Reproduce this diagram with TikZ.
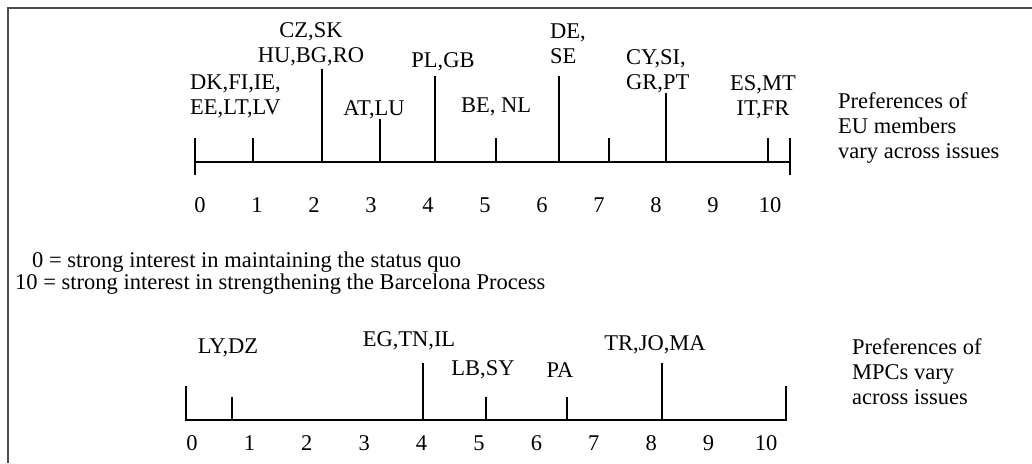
\documentclass[tikz,border=0pt]{standalone}
\usepackage{fontspec}
\setmainfont{Liberation Serif}
\tikzset{
  axis/.style={line width=2.2pt},
  tick/.style={line width=1.8pt},
  lab/.style={inner sep=0pt, font=\fontsize{22.5}{25}\selectfont},
}
\begin{document}
\begin{tikzpicture}[x=1pt,y=-1pt]
  \useasboundingbox (0,0) rectangle (1032,463);
  % frame
  \draw[line width=2pt, black!70] (8,463) -- (8,8) -- (1032,8);
  % EU axis
  \coordinate (eu0) at (195,162);
  \coordinate (eu10) at (790,162);
  \draw[axis] (eu0) -- (eu10);
  \draw[tick] (195,138) -- (195,175);
  \draw[tick] (790,138) -- (790,175);
  \foreach \x/\t in {253/138, 322/69, 380/119, 435/76, 496/138, 559/76, 609/138, 666/93, 768/138}
    \draw[tick] (\x,\t) -- (\x,163);
  \foreach \i in {0,...,10}
    \node[lab] (eun\i) at (200+57*\i,205) {\i};
  \node[lab, anchor=west, align=left] (dk) at (190,96) {DK,FI,IE,\\EE,LT,LV};
  \node[lab, align=center] (cz) at (311,44) {CZ,SK\\HU,BG,RO};
  \node[lab] (at) at (374,110) {AT,LU};
  \node[lab] (pl) at (443,62) {PL,GB};
  \node[lab] (be) at (496,107) {BE, NL};
  \node[lab, anchor=west, align=left] (de) at (550,44) {DE,\\SE};
  \node[lab, anchor=west, align=left] (cy) at (626,71) {CY,SI,\\GR,PT};
  \node[lab, align=center] (es) at (763,97) {ES,MT\\IT,FR};
  \node[lab, anchor=west, align=left] (prefeu) at (838,128) {Preferences of\\EU members\\vary across issues};
  % key
  \node[lab, anchor=west] (key0) at (32,262) {0 = strong interest in maintaining the status quo};
  \node[lab, anchor=west] (key10) at (15,284) {10 = strong interest in strengthening the Barcelona Process};
  % MPC axis
  \coordinate (mpc0) at (186,420);
  \coordinate (mpc10) at (786,420);
  \draw[axis] (mpc0) -- (mpc10);
  \foreach \x/\t in {186/386, 232/397, 423/363, 486/397, 567/397, 662/363, 786/386}
    \draw[tick] (\x,\t) -- (\x,421);
  \foreach \i in {0,...,10}
    \node[lab] (mpcn\i) at (192+57.4*\i,443) {\i};
  \node[lab] (ly) at (228,348) {LY,DZ};
  \node[lab] (eg) at (409,341) {EG,TN,IL};
  \node[lab] (lb) at (483,370) {LB,SY};
  \node[lab] (pa) at (560,370) {PA};
  \node[lab] (tr) at (655,345) {TR,JO,MA};
  \node[lab, anchor=west, align=left] (prefmpc) at (852,372) {Preferences of\\MPCs vary\\across issues};
\end{tikzpicture}
\end{document}
